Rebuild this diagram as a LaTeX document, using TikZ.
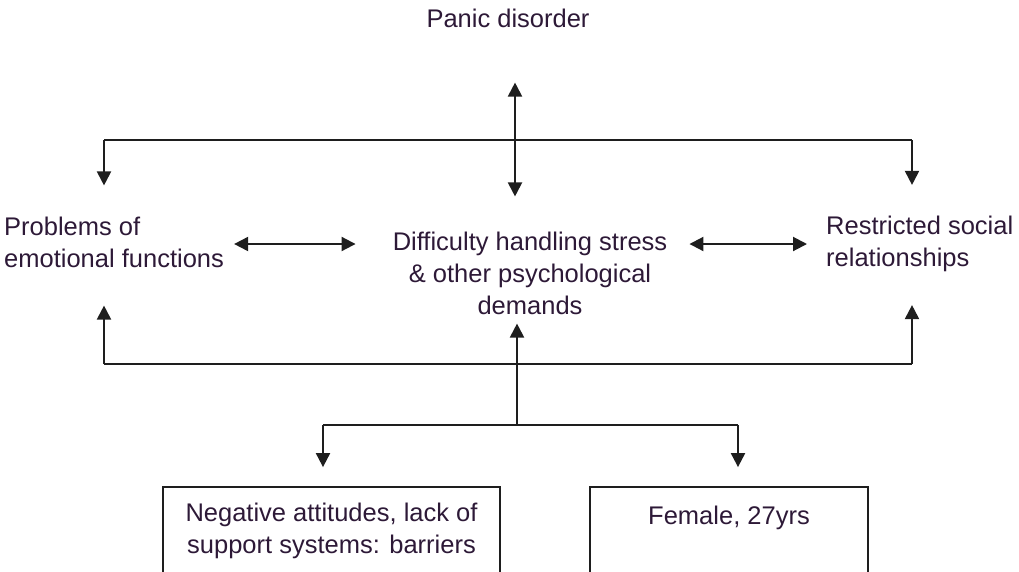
\documentclass[tikz,border=0pt]{standalone}
\usepackage{fontspec}
\setmainfont{Liberation Sans}
\usepackage{color}
\definecolor{mytext}{RGB}{45,25,55}
\definecolor{myline}{RGB}{30,30,30}
\usepackage{tikz}
\usetikzlibrary{calc,arrows.meta,positioning}
\tikzstyle{txt}=[text=mytext,align=left,inner sep=0pt,font=\fontsize{25.5}{32}\selectfont]
\tikzstyle{boxnode}=[txt,draw=myline,line width=1.8pt,align=center,minimum height=88pt]
\tikzstyle{line}=[draw=myline,line width=2pt]
\tikzstyle{one}=[line,-{Triangle[width=14pt,length=14pt]}]
\tikzstyle{two}=[line,{Triangle[width=14pt,length=14pt]}-{Triangle[width=14pt,length=14pt]}]

\begin{document}
\begin{tikzpicture}[x=1pt,y=-1pt]
\clip (0,0) rectangle (1019,571);
\draw (508,18) node [txt,align=center] (panic) {Panic disorder};
\draw (4,242) node [txt,anchor=west] (emo) {Problems of\\emotional functions};
\draw (530,273) node [txt,align=center] (stress) {Difficulty handling stress\\\& other psychological\\demands};
\draw (826,244) node [txt,anchor=west] (social) {Restricted social\\relationships};
\draw (331.5,531) node [boxnode,minimum width=337pt] (barriers) {Negative attitudes, lack of\\support systems: barriers};
\draw (729,531) node [boxnode,minimum width=278pt] (female) {Female, 27yrs\\\phantom{X}};
% junctions
\coordinate (hub) at (515,140);
\coordinate (tl) at (104,140);
\coordinate (tr) at (912,140);
\coordinate (bl) at (104,364);
\coordinate (br) at (912,364);
\coordinate (fork) at (517,425);
\coordinate (bkl) at (323,425);
\coordinate (bkr) at (738,425);
% top part
\draw[two,shorten <=55pt,shorten >=35pt] (panic.south -| hub) -- (stress.north -| hub);
\draw[line] (tl) -- (tr);
\draw[one,shorten >=31pt] (tl) -- (tl |- emo.north);
\draw[one,shorten >=31pt] (tr) -- (tr |- social.north);
% middle row
\draw[two,shorten <=10pt,shorten >=37pt] (emo.east |- 0,244) -- (stress.west |- 0,244);
\draw[two,shorten <=22pt,shorten >=19pt] (stress.east |- 0,244) -- (social.west |- 0,244);
% bottom part
\draw[line] (bl) -- (br);
\draw[one,shorten >=38pt] (bl) -- (bl |- emo.south);
\draw[one,shorten >=33pt] (br) -- (br |- social.south);
\draw[one,shorten >=9pt] (fork) -- (fork |- stress.south);
\draw[line] (bkl) -- (bkr);
\draw[one,shorten >=19pt] (bkl) -- (bkl |- barriers.north);
\draw[one,shorten >=19pt] (bkr) -- (bkr |- female.north);
\end{tikzpicture}
\end{document}
